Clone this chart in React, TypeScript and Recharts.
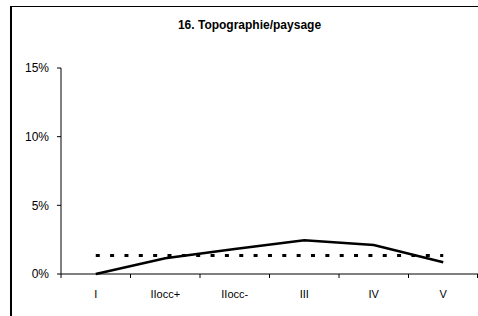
import { ComposedChart, Line, XAxis, YAxis } from 'recharts';

const categories = ['I', 'IIocc+', 'IIocc-', 'III', 'IV', 'V'];
const shareValues = [0, 1.14, 1.82, 2.45, 2.11, 0.85];
const averageValues = [1.35, 1.35, 1.35, 1.35, 1.35, 1.35];
const yTicks = [0, 5, 10, 15];

const data = categories.map((c, i) => ({
  cat: c,
  share: shareValues[i],
  avg: averageValues[i],
}));

const FONT = '"Liberation Sans", Arial, sans-serif';

// Excel-style tick: marks sit between categories, label in the middle
function CategoryTick(props: any) {
  const { x, y, payload, index } = props;
  const half = payload?.offset ?? 34.75;
  const axisY = y - 16;
  return (
    <g>
      <line x1={x - half} x2={x - half} y1={axisY} y2={axisY + 4} stroke="#000" />
      {index === categories.length - 1 && (
        <line x1={x + half - 0.5} x2={x + half - 0.5} y1={axisY} y2={axisY + 4} stroke="#000" />
      )}
      <text x={x} y={y} dy="0.71em" textAnchor="middle" fontSize={11} fontFamily={FONT} fill="#000">
        {payload.value}
      </text>
    </g>
  );
}

export default function App() {
  return (
    <div
      style={{
        position: 'fixed',
        left: 0,
        top: 0,
        width: 478,
        height: 316,
        overflow: 'hidden',
        background: '#fff',
      }}
    >
      {/* chart area frame: only the top and left edges fall inside the picture */}
      <div style={{ position: 'absolute', left: 10, top: 6, width: 468, height: 1, background: '#000' }} />
      <div style={{ position: 'absolute', left: 10, top: 6, width: 2, height: 310, background: '#000' }} />
      <div
        style={{
          position: 'absolute',
          left: 10,
          top: 18,
          width: 479,
          textAlign: 'center',
          fontFamily: FONT,
          fontSize: 12,
          fontWeight: 'bold',
        }}
      >
        16. Topographie/paysage
      </div>
      <ComposedChart
        width={478}
        height={316}
        data={data}
        margin={{ top: 68, right: 0, bottom: 0, left: 0 }}
        style={{ position: 'absolute', left: 0, top: 0 }}
      >
        <XAxis
          dataKey="cat"
          scale="band"
          height={42}
          stroke="#000"
          tickLine={false}
          tickSize={4}
          tickMargin={12}
          interval={0}
          tick={<CategoryTick />}
        />
        <YAxis
          width={61}
          domain={[0, 15]}
          ticks={yTicks}
          tickFormatter={(v: number) => `${v}%`}
          stroke="#000"
          tickSize={4}
          tickMargin={8}
          tick={{ fontSize: 12, fontFamily: FONT, fill: '#000' }}
        />
        <Line
          dataKey="avg"
          stroke="#000"
          strokeWidth={3}
          strokeDasharray="4 10.35"
          dot={false}
          activeDot={false}
          isAnimationActive={false}
        />
        <Line
          dataKey="share"
          type="linear"
          stroke="#000"
          strokeWidth={2.5}
          dot={false}
          activeDot={false}
          isAnimationActive={false}
        />
      </ComposedChart>
    </div>
  );
}
